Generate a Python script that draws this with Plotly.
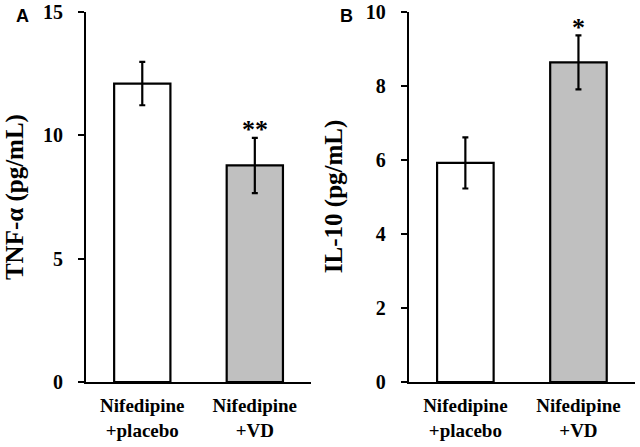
import plotly.graph_objects as go
from plotly.subplots import make_subplots

groups = ['Nifedipine<br>+placebo', 'Nifedipine<br>+VD']
tnf_mean = [12.1, 8.78]
tnf_err = [0.88, 1.12]
il10_mean = [5.92, 8.64]
il10_err = [0.69, 0.73]
tnf_ticks = [0, 5, 10, 15]
il10_ticks = [0, 2, 4, 6, 8, 10]
tnf_sig = ['', '**']
il10_sig = ['', '*']

serif = 'Liberation Serif, Times New Roman, serif'
bar_colors = ['white', '#c0c0c0']

fig = make_subplots(rows=1, cols=2, horizontal_spacing=0.18)

for col, (means, errs) in enumerate([(tnf_mean, tnf_err), (il10_mean, il10_err)], start=1):
    fig.add_trace(go.Bar(
        x=groups, y=means, width=0.5,
        marker=dict(color=bar_colors, line=dict(color='black', width=2.2)),
        error_y=dict(type='data', array=errs, color='black', thickness=2.2, width=3),
        showlegend=False, hoverinfo='skip',
    ), row=1, col=col)

star_font = dict(family=serif, size=26, color='black', weight='bold')
# significance stars
for i, s in enumerate(tnf_sig):
    if s:
        fig.add_annotation(x=groups[i], y=tnf_mean[i] + tnf_err[i], text=s, showarrow=False,
                           yanchor='bottom', yshift=-8, xref='x', yref='y', font=star_font)
for i, s in enumerate(il10_sig):
    if s:
        fig.add_annotation(x=groups[i], y=il10_mean[i] + il10_err[i], text=s, showarrow=False,
                           yanchor='bottom', yshift=-9, xref='x2', yref='y2', font=star_font)

# y titles
title_font = dict(family=serif, size=25, color='black', weight='bold')
fig.add_annotation(x=-0.315, y=0.5, xref='x domain', yref='y domain', text='TNF-α (pg/mL)',
                   xanchor='center', yanchor='middle',
                   textangle=-90, showarrow=False, font=title_font)
fig.add_annotation(x=-0.33, y=0.5, xref='x2 domain', yref='y2 domain', text='IL-10 (pg/mL)',
                   xanchor='center', yanchor='middle',
                   textangle=-90, showarrow=False, font=title_font)

# panel letters (pixel positions converted below)
pw, ph = 640 - 86 - 5, 447 - 12 - 65
for letter, px_x, px_y in [('A', 22, 16), ('B', 346, 16)]:
    fig.add_annotation(x=(px_x - 86) / pw, y=1 - (px_y - 12) / ph, xref='paper', yref='paper',
                       text=letter, showarrow=False, xanchor='center', yanchor='middle',
                       font=dict(family='Liberation Sans, Arial, sans-serif', size=18,
                                 color='black', weight='bold'))

axis_common = dict(showline=True, linecolor='black', linewidth=2, showgrid=False, zeroline=False,
                   automargin=False)

fig.update_xaxes(**axis_common, ticks='', ticklabelstandoff=5,
                 tickfont=dict(family=serif, size=19, color='black', weight='bold'))
fig.update_yaxes(**axis_common, ticklabelstandoff=11,
                 tickfont=dict(family=serif, size=20, color='black', weight='bold'))
fig.update_yaxes(range=[0, 15], tickvals=tnf_ticks, ticktext=['<b>%d</b>' % v for v in tnf_ticks],
                 ticks='outside', ticklen=6, tickwidth=2, tickcolor='black', row=1, col=1)
fig.update_yaxes(range=[0, 10], tickvals=il10_ticks, ticktext=['<b>%d</b>' % v for v in il10_ticks],
                 ticks='outside', ticklen=6, tickwidth=2, tickcolor='black', row=1, col=2)
fig.update_xaxes(domain=[0, 0.41], row=1, col=1)
fig.update_xaxes(domain=[0.588, 1], row=1, col=2)

fig.update_layout(
    width=640, height=447,
    margin=dict(l=86, r=5, t=12, b=65),
    plot_bgcolor='white', paper_bgcolor='white',
)

# drop the browser's default body margin so the figure sits at the window corner
fig.write_html("out.html", config={'displayModeBar': False},
               post_script="document.body.style.margin='0';")
